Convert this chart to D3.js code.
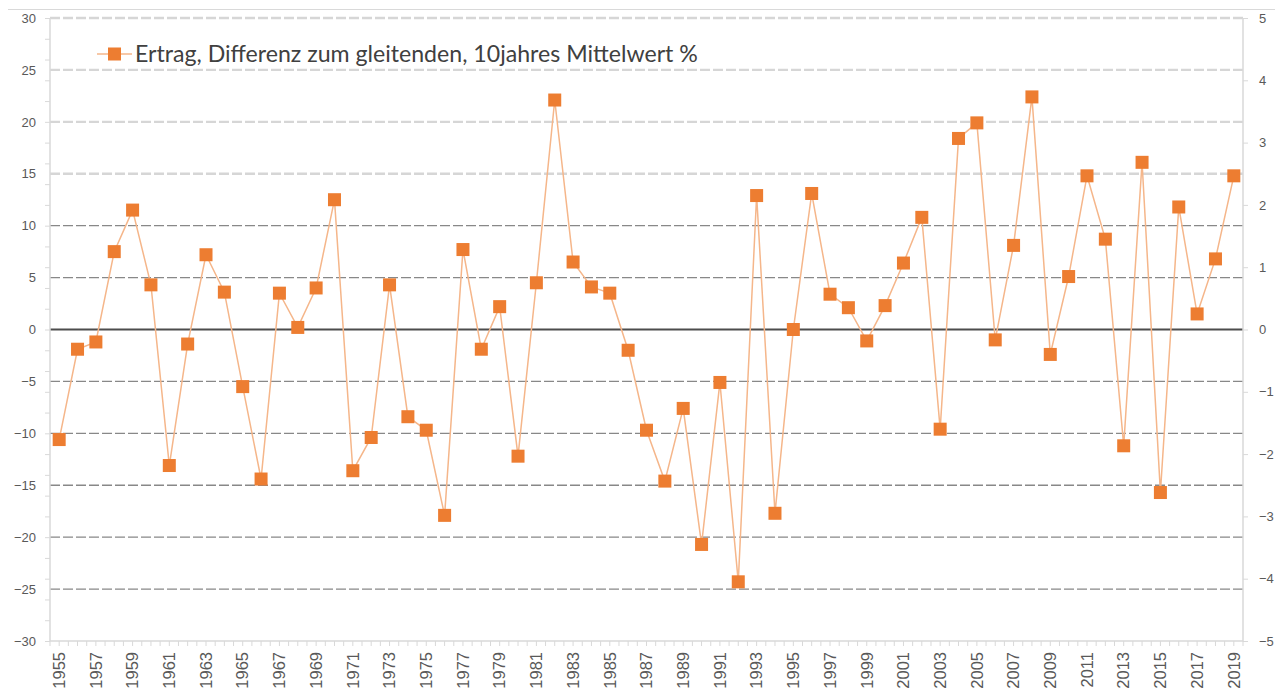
<!DOCTYPE html>
<html>
<head>
<meta charset="utf-8">
<script src="https://cdn.jsdelivr.net/npm/d3@7"></script>
<style>
  body { margin: 0; background: #fff; }
  svg { display: block; font-family: Lato, 'Open Sans', sans-serif; }
  .tick text { fill: #595959; }
</style>
</head>
<body>
<svg width="1275" height="695"></svg>
<script>
const years = d3.range(1955, 2020).map(String);
const ertrag = [
  -10.6, -1.9, -1.2, 7.5, 11.5, 4.3, -13.1, -1.4, 7.2, 3.6,
  -5.5, -14.4, 3.5, 0.2, 4.0, 12.5, -13.6, -10.4, 4.3, -8.4,
  -9.7, -17.9, 7.7, -1.9, 2.2, -12.2, 4.5, 22.1, 6.5, 4.1,
  3.5, -2.0, -9.7, -14.6, -7.6, -20.7, -5.1, -24.3, 12.9, -17.7,
  0.0, 13.1, 3.4, 2.1, -1.1, 2.3, 6.4, 10.8, -9.6, 18.4,
  19.9, -1.0, 8.1, 22.4, -2.4, 5.1, 14.8, 8.7, -11.2, 16.1,
  -15.7, 11.8, 1.5, 6.8, 14.8
];
const leftTicks = [-30, -25, -20, -15, -10, -5, 0, 5, 10, 15, 20, 25, 30];
const rightTicks = [-5, -4, -3, -2, -1, 0, 1, 2, 3, 4, 5];
const legendText = 'Ertrag, Differenz zum gleitenden, 10jahres Mittelwert %';

const svg = d3.select('svg');
const orange = '#ED7D31';

const x = d3.scaleBand().domain(years).range([50, 1243]);
const cx = d => x(d) + x.bandwidth() / 2;
const y = d3.scaleLinear().domain([-30, 30]).range([641, 18]);
const y2 = d3.scaleLinear().domain([-5, 5]).range([641, 18]);

// chart border top
svg.append('line')
  .attr('x1', 8).attr('x2', 1275).attr('y1', 9.5).attr('y2', 9.5)
  .attr('stroke', '#d9d9d9').attr('stroke-width', 1);

// gridlines
svg.append('g').selectAll('line')
  .data(leftTicks.filter(t => t !== -30))
  .enter().append('line')
    .attr('x1', 50).attr('x2', 1243)
    .attr('y1', d => y(d)).attr('y2', d => y(d))
    .attr('stroke', d => d === 0 ? '#4d4d4d' : (d >= 15 ? '#d6d6d6' : '#888'))
    .attr('stroke-width', d => d === 0 ? 2.2 : (d >= 15 ? 2.4 : 1.4))
    .attr('stroke-dasharray', d => d === 0 ? null : '10,3');

// plot frame lines
svg.append('line').attr('x1', 50).attr('x2', 50).attr('y1', 18).attr('y2', 641)
  .attr('stroke', '#d9d9d9').attr('stroke-width', 1.5);
svg.append('line').attr('x1', 1243).attr('x2', 1243).attr('y1', 18).attr('y2', 641)
  .attr('stroke', '#d9d9d9').attr('stroke-width', 1.5);
svg.append('line').attr('x1', 50).attr('x2', 1243).attr('y1', 641).attr('y2', 641)
  .attr('stroke', '#d9d9d9').attr('stroke-width', 1.5);

// left axis
const yAxisG = svg.append('g')
  .attr('transform', 'translate(50,0)')
  .call(d3.axisLeft(y).tickValues(leftTicks).tickSize(0).tickPadding(14));
yAxisG.select('.domain').remove();
yAxisG.selectAll('text').style('font-size', '13px');

const yMinor = svg.append('g')
  .attr('transform', 'translate(50,0)')
  .call(d3.axisLeft(y).tickValues(d3.range(-30, 31, 2)).tickSize(5).tickFormat(''));
yMinor.select('.domain').remove();
yMinor.selectAll('line').attr('stroke', '#d9d9d9');

// right axis
const y2AxisG = svg.append('g')
  .attr('transform', 'translate(1243,0)')
  .call(d3.axisRight(y2).tickValues(rightTicks).tickSize(5).tickPadding(11));
y2AxisG.select('.domain').remove();
y2AxisG.selectAll('line').attr('stroke', '#d9d9d9');
y2AxisG.selectAll('text').style('font-size', '13px');

// bottom axis
const xAxisG = svg.append('g')
  .attr('transform', 'translate(0,641)')
  .call(d3.axisBottom(x).tickSize(0)
    .tickFormat(d => (+d - 1955) % 2 === 0 ? d : ''));
xAxisG.select('.domain').remove();
xAxisG.selectAll('text')
  .style('font-size', '16.5px')
  .attr('text-anchor', 'end')
  .attr('dy', '0.35em')
  .attr('transform', 'translate(0,11) rotate(-90)')
  .attr('x', 0).attr('y', 0);

// bottom ticks at half-category steps
const halfTicks = [];
years.forEach(d => { halfTicks.push(x(d)); halfTicks.push(x(d) + x.bandwidth() / 2); });
halfTicks.push(1243);
svg.append('g').selectAll('line').data(halfTicks)
  .enter().append('line')
    .attr('x1', d => d).attr('x2', d => d)
    .attr('y1', 641).attr('y2', 646)
    .attr('stroke', '#d9d9d9');

// series
const line = d3.line()
  .x((d, i) => cx(years[i]))
  .y(d => y(d));

svg.append('path')
  .datum(ertrag)
  .attr('fill', 'none')
  .attr('stroke', '#F5B68A')
  .attr('stroke-width', 1.5)
  .attr('d', line);

const ms = 13;
svg.append('g').selectAll('rect').data(ertrag)
  .enter().append('rect')
    .attr('x', (d, i) => cx(years[i]) - ms / 2)
    .attr('y', d => y(d) - ms / 2)
    .attr('width', ms).attr('height', ms)
    .attr('fill', orange);

// legend
const lg = svg.append('g').attr('transform', 'translate(97,54)');
lg.append('line').attr('x1', 0).attr('x2', 35).attr('y1', 0).attr('y2', 0)
  .attr('stroke', '#F5B68A').attr('stroke-width', 1.5);
lg.append('rect').attr('x', 17.5 - ms / 2).attr('y', -ms / 2)
  .attr('width', ms).attr('height', ms).attr('fill', orange);
const lt = lg.append('text')
  .attr('x', 38).attr('y', 0).attr('dy', '0.35em')
  .attr('fill', '#404040')
  .style('font-size', '19px')
  .text(legendText);
const w = lt.node().getComputedTextLength();
lt.style('font-size', (19 * 563 / w).toFixed(2) + 'px');
</script>
</body>
</html>
